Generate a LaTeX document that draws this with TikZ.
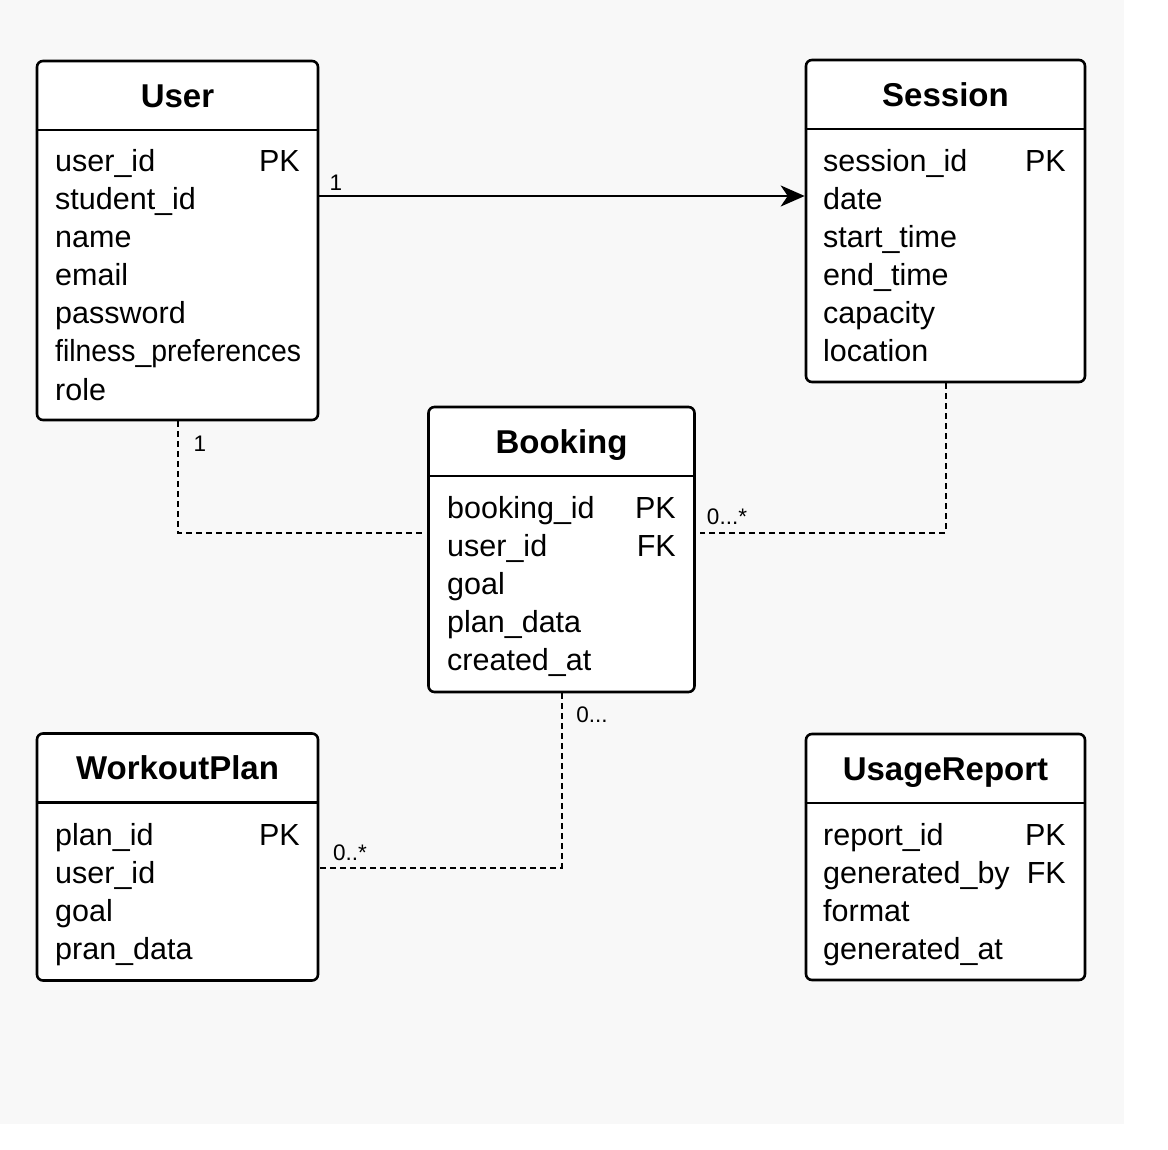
\documentclass[tikz,border=0pt]{standalone}
\usepackage{fontspec}
\setmainfont{Liberation Sans}
\usetikzlibrary{arrows.meta}
\definecolor{bggray}{RGB}{248,248,248}
\tikzset{>={Stealth[length=24pt,width=21pt,inset=7pt]},font=\fontsize{30.5}{36}\selectfont}

\begin{document}
\begin{tikzpicture}[x=1pt,y=-1pt,
  entity/.style={draw,line width=2.6pt,rounded corners=6pt,fill=white,inner sep=0pt},
  head/.style={anchor=north,yshift=-2pt,minimum height=68pt,inner sep=0pt,text height=23pt,text depth=0pt,font=\fontsize{33}{40}\selectfont\bfseries},
  field/.style={anchor=base west,inner sep=0pt},
  key/.style={anchor=base east,inner sep=0pt},
  rel/.style={line width=2pt,dash pattern=on 6pt off 4pt},
  mult/.style={inner sep=0pt,font=\fontsize{22.5}{27}\selectfont}]
\fill[bggray] (0,0) rectangle (1124,1124);
\useasboundingbox (0,0) rectangle (1168,1150);

% entities
\node[entity,minimum width=281pt,minimum height=359pt] (U) at (177.5,240.5) {};
\node[entity,minimum width=279pt,minimum height=322pt] (S) at (945.5,221) {};
\node[entity,minimum width=266pt,minimum height=285pt] (B) at (561.5,549.5) {};
\node[entity,minimum width=281pt,minimum height=247pt] (W) at (177.5,857) {};
\node[entity,minimum width=279pt,minimum height=246pt] (R) at (945.5,857) {};

\node[head] (UT) at (U.north) {User};
\node[head] (ST) at (S.north) {Session};
\node[head] (BT) at (B.north) {Booking};
\node[head] (WT) at (W.north) {WorkoutPlan};
\node[head] (RT) at (R.north) {UsageReport};
\foreach \e in {U,S,B,W,R}
  \draw[line width=2.6pt] (\e.west |- \e T.south) -- (\e.east |- \e T.south);

% fields
\foreach \t [count=\i] in {user\_id,student\_id,name,email,password,{\scalebox{0.93}[1]{filness\_preferences}},role}
  \node[field] (U\i) at (55,{134+38*\i}) {\t};
\node[key] (UK) at (300,172) {PK};

\foreach \t [count=\i] in {session\_id,date,start\_time,end\_time,capacity,location}
  \node[field] (S\i) at (823,{134+38*\i}) {\t};
\node[key] (SK) at (1066,172) {PK};

\foreach \t [count=\i] in {booking\_id,user\_id,goal,plan\_data,created\_at}
  \node[field] (B\i) at (447,{480+38*\i}) {\t};
\node[key] (BK) at (676,518) {PK};
\node[key] (BF) at (676,556) {FK};

\foreach \t [count=\i] in {plan\_id,user\_id,goal,pran\_data}
  \node[field] (W\i) at (55,{807+38*\i}) {\t};
\node[key] (WK) at (300,845) {PK};

\foreach \t [count=\i] in {report\_id,generated\_by,format,generated\_at}
  \node[field] (R\i) at (823,{807+38*\i}) {\t};
\node[key] (RK) at (1066,845) {PK};
\node[key] (RF) at (1066,883) {FK};

% relations
\coordinate (row) at (0,196);
\coordinate (bl) at (423,533);
\coordinate (br) at (700,533);
\coordinate (wr) at (320,868);
\draw[line width=2.2pt,->] (U.east |- row) -- (S.west |- row);
\draw[rel] (U.south) |- (bl);
\draw[rel] (S.south) |- (br);
\draw[rel] (B.south) |- (wr);

\node[mult] (m1) at (336,183) {1};
\node[mult] (m2) at (200,444) {1};
\node[mult] (m3) at (727,517) {0...*};
\node[mult] (m4) at (592,715) {0...};
\node[mult] (m5) at (350,853) {0..*};
\end{tikzpicture}
\end{document}
